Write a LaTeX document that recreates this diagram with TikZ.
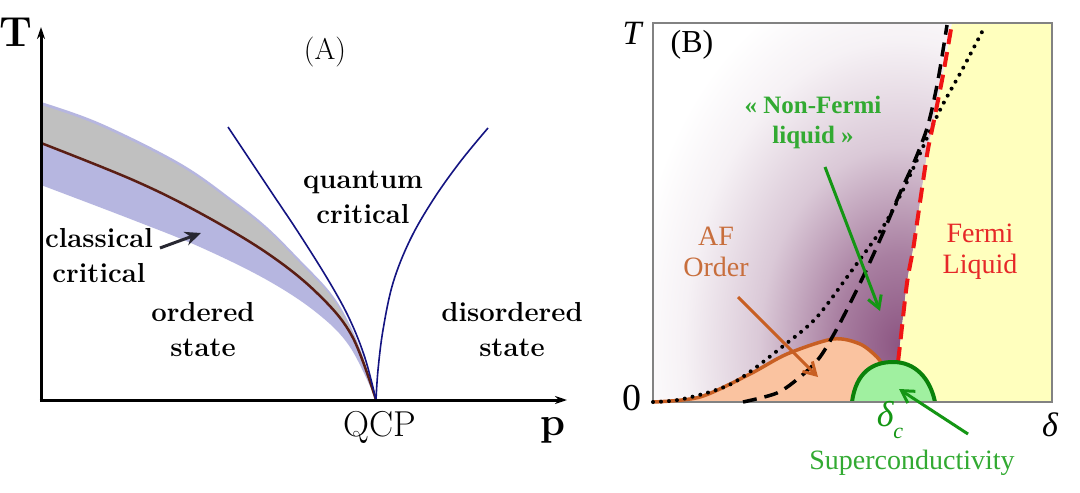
\documentclass[tikz,border=0pt]{standalone}
\usepackage{fontspec}
\newfontfamily\tnr{Liberation Serif}
\usetikzlibrary{arrows.meta}
\definecolor{bandgray}{RGB}{192,192,192}
\definecolor{lav}{RGB}{182,182,224}
\definecolor{brownl}{RGB}{90,30,20}
\definecolor{navy}{RGB}{20,20,130}
\definecolor{arrowA}{RGB}{40,40,50}
\definecolor{purp}{RGB}{140,85,130}
\definecolor{yel}{RGB}{255,255,190}
\definecolor{peach}{RGB}{250,195,160}
\definecolor{orangel}{RGB}{200,95,35}
\definecolor{orangetxt}{RGB}{200,110,60}
\definecolor{greenl}{RGB}{20,150,20}
\definecolor{greentxt}{RGB}{50,170,50}
\definecolor{domefill}{RGB}{160,240,160}
\definecolor{domeedge}{RGB}{10,130,10}
\definecolor{redl}{RGB}{240,20,20}
\definecolor{redtxt}{RGB}{230,40,40}
\definecolor{boxgray}{RGB}{130,130,130}
\pgfdeclareradialshading{purpfade}{\pgfpoint{0bp}{0bp}}{color(0bp)=(purp); color(6bp)=(purp!75!white); color(13bp)=(purp!32!white); color(20bp)=(purp!8!white); color(25bp)=(white); color(50bp)=(white)}
\begin{document}
\begin{tikzpicture}[x=1pt,y=-1pt,
  axisA/.style={line width=3pt, -{Stealth[length=12pt,width=8pt]}},
  lblA/.style={font=\fontsize{27.5}{35}\selectfont\bfseries, align=center, inner sep=0pt},
  lblB/.style={font=\tnr\fontsize{28}{31}\selectfont, align=center, inner sep=0pt},
  barb/.style={line width=3pt, -{Straight Barb[length=12pt,width=14pt,line width=3pt]}},
  critline/.style={navy, line width=1.6pt},
  dottedline/.style={line width=4pt, line cap=round, dash pattern=on 0pt off 8pt},
  dashedline/.style={line width=3.5pt, dash pattern=on 14pt off 8pt},
  reddash/.style={redl, line width=4pt, dash pattern=on 15pt off 8pt}]
\useasboundingbox (0,0) rectangle (1080,493);
\fill[white] (0,0) rectangle (1080,493);

% ================= Panel A =================
\fill[lav] plot[smooth, tension=0.6] coordinates {(41,102) (100,123) (180,163) (233,200) (267,227) (300,260) (330,292) (348,321) (363,357) (376,400)}
  -- plot[smooth, tension=0.6] coordinates {(376,400) (350,347) (317,313) (267,280) (200,247) (133,220) (41,185)} -- cycle;
\fill[bandgray] plot[smooth, tension=0.6] coordinates {(41,105) (100,126) (180,166) (233,203) (267,230) (300,263) (330,295) (348,324) (363,359) (376,400)}
  -- plot[smooth, tension=0.6] coordinates {(376,400) (352,336) (317,293) (267,253) (200,213) (133,180) (41,143)} -- cycle;
\draw[brownl, line width=2.5pt] plot[smooth, tension=0.6] coordinates {(41,143) (133,180) (200,213) (267,253) (317,293) (352,336) (376,400)};
\draw[critline] plot[smooth, tension=0.6] coordinates {(228,127) (270,190) (300,235) (330,283) (350,320) (365,358) (376,400)};
\draw[critline] plot[smooth, tension=0.6] coordinates {(488,128) (460,162) (433,200) (410,240) (393,283) (383,330) (378,370) (376,400)};

\coordinate (Ayend) at (41,27);
\coordinate (Axend) at (567,400);
\draw[axisA] (41,401.5) -- (Ayend);
\draw[axisA] (39.5,400) -- (Axend);

\node[font=\fontsize{42}{42}\selectfont\bfseries, inner sep=0pt] (TA) at (16,32) {T};
\node[font=\fontsize{40}{40}\selectfont\bfseries, inner sep=0pt] (pA) at (553,430) {p};
\node[font=\fontsize{36}{36}\selectfont, inner sep=0pt] (QCP) at (380,427) {QCP};
\node[font=\fontsize{30}{30}\selectfont, inner sep=0pt] (labA) at (325,52) {(A)};
\node[lblA] (quant) at (363,197) {quantum\\critical};
\node[lblA] (class) at (99,256) {classical\\critical};
\node[lblA] (order) at (203,330) {ordered\\state};
\node[lblA] (disord) at (512,330) {disordered\\state};
\coordinate (clsS) at (160,248);
\coordinate (clsTip) at (201,233);
\draw[arrowA, line width=3pt, -{Stealth[length=16pt,width=14pt]}] (clsS) -- (clsTip);

% ================= Panel B =================
\begin{scope}
\clip (653,23) -- (952,23) -- plot[smooth] coordinates {(952,23) (943,75) (933,125) (927,155) (917,223) (913,250) (907,283) (900,345) (898,362)} -- (898,402) -- (653,402) -- cycle;
\shade[shading=purpfade] (900,345) ellipse [x radius=270, y radius=380];
\end{scope}
\fill[yel] plot[smooth] coordinates {(898,362) (900,345) (907,283) (913,250) (917,223) (927,155) (933,125) (943,75) (952,23)} -- (1052,23) -- (1052,402) -- (898,402) -- cycle;
\fill[peach] plot[smooth] coordinates {(653,402) (700,397) (750,374) (787,354) (833,339) (860,344) (877,357) (883,366)} -- (883,402) -- cycle;
\draw[boxgray, line width=1.3pt] (653,23) rectangle (1052,402);

\draw[orangel, line width=3.5pt] plot[smooth] coordinates {(653,402) (700,397) (750,374) (787,354) (833,339) (860,344) (877,357) (883,366)};
\draw[dottedline] plot[smooth] coordinates {(653,402) (683,399) (733,383) (787,343) (817,317) (850,273) (883,227) (903,190) (917,160) (940,110) (962,70) (983,30)};
\draw[dashedline] plot[smooth] coordinates {(743,402) (777,393) (800,377) (820,357) (840,323) (863,277) (883,233) (900,193) (915,160) (928,125) (938,80) (947,25)};
\draw[reddash] plot[smooth] coordinates {(898,362) (900,345) (907,283) (913,250) (917,223) (927,155) (933,125) (943,75) (952,23)};

\fill[domefill] (852,402) .. controls (856,372) and (873,362) .. (893,362) .. controls (915,362) and (930,378) .. (935,402) -- cycle;
\draw[domeedge, line width=4pt] (852,402) .. controls (856,372) and (873,362) .. (893,362) .. controls (915,362) and (930,378) .. (935,402);
\draw[boxgray, line width=1.3pt] (850,402) -- (937,402);

\node[font=\tnr\itshape\fontsize{34}{34}\selectfont, inner sep=0pt] (TB) at (632,33) {T};
\node[font=\tnr\fontsize{32}{32}\selectfont, inner sep=0pt] (labB) at (692,45) {(B)};
\node[font=\tnr\fontsize{38}{38}\selectfont, inner sep=0pt] (zero) at (632,398) {0};
\node[font=\tnr\itshape\fontsize{34}{34}\selectfont, inner sep=0pt] (delta) at (1050,425) {δ};
\node[font=\tnr\itshape\fontsize{36}{36}\selectfont, text=greenl, inner sep=0pt] (deltac) at (890,420) {δ\raisebox{-0.35em}{\fontsize{22}{22}\selectfont c}};
\node[lblB, text=greentxt] (supc) at (912,463) {Superconductivity};
\node[lblB, text=greentxt, font=\tnr\bfseries\fontsize{25}{30}\selectfont] (nfl) at (813,122) {« Non-Fermi\\liquid »};
\node[lblB, text=orangetxt] (af) at (716,252) {AF\\Order};
\node[lblB, text=redtxt] (fl) at (980,252) {Fermi\\Liquid};

\coordinate (afS) at (738,297);
\coordinate (afT) at (818,377);
\coordinate (nflS) at (825,167);
\coordinate (nflT) at (880,311);
\coordinate (scS) at (968,434);
\coordinate (scT) at (899,389);
\draw[barb, orangel] (afS) -- (afT);
\draw[barb, greenl] (nflS) -- (nflT);
\draw[barb, greenl] (scS) -- (scT);
\end{tikzpicture}
\end{document}
